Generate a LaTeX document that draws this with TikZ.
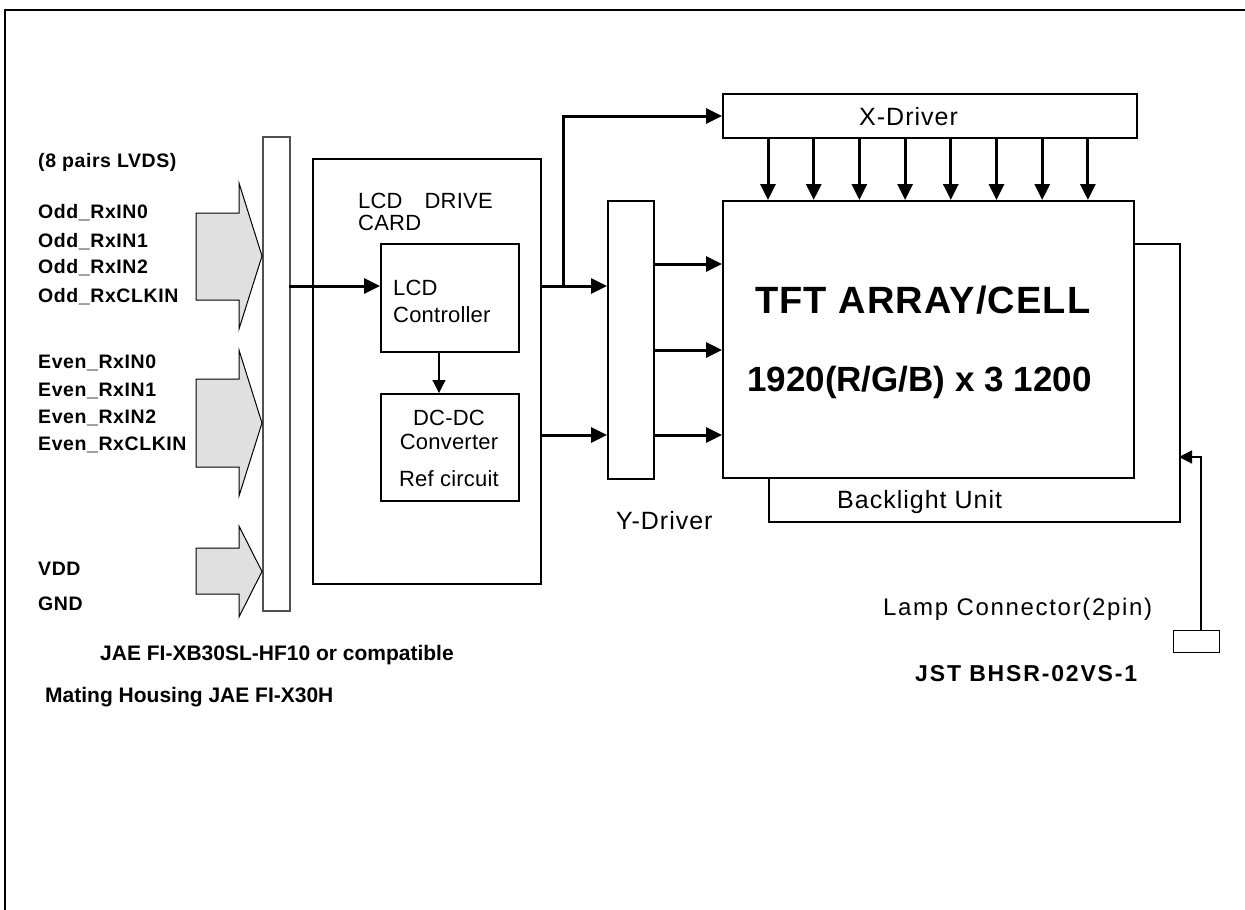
\documentclass[tikz,border=0pt]{standalone}
\usepackage{fontspec}
\setmainfont{Liberation Sans}
\usetikzlibrary{arrows.meta, positioning}
\definecolor{busgray}{RGB}{224,224,224}
\definecolor{bargray}{RGB}{80,80,80}

\tikzset{
  blk/.style={draw, line width=2pt, inner sep=0pt, anchor=north west},
  sigtxt/.style={font=\bfseries\fontsize{19.5}{21}\selectfont\addfontfeatures{LetterSpace=3}, inner sep=0pt, anchor=base west},
  cardtxt/.style={font=\fontsize{22}{24}\selectfont\addfontfeatures{LetterSpace=1}, inner sep=0pt, anchor=base west},
  bigtxt/.style={font=\fontsize{25}{27}\selectfont\addfontfeatures{LetterSpace=4}, inner sep=0pt, anchor=base west},
  parttxt/.style={font=\bfseries\fontsize{21}{23}\selectfont, inner sep=0pt, anchor=base west},
  bigarr/.style={line width=3pt, -{Triangle[length=16pt,width=15pt]}},
  thinarr/.style={line width=1.2pt, -{Triangle[length=13pt,width=13pt]}},
}

\begin{document}
\begin{tikzpicture}[x=1pt, y=-1pt]
  \useasboundingbox (0,0) rectangle (1245,910);
  \draw[line width=2.4pt] (5,915) -- (5,10) -- (1250,10);

  % input connector and LVDS buses
  \node[blk, draw=bargray, line width=1.5pt, minimum width=27pt, minimum height=474pt] (conn) at (262,136) {};
  \foreach \bt/\bb/\ht/\hb in {213/300/183/329, 379/467/350/496, 548/594/526/617}
    \filldraw[fill=busgray, line width=1pt] (196,\bt) -- (239,\bt) -- (239,\ht) -- (262,{(\ht+\hb)/2})
      -- (239,\hb) -- (239,\bb) -- (196,\bb) -- cycle;

  \node[sigtxt] (lvds) at (38,167) {(8 pairs LVDS)};
  \foreach \t/\yy [count=\i] in {Odd\_RxIN0/218, Odd\_RxIN1/247, Odd\_RxIN2/273, Odd\_RxCLKIN/302,
      Even\_RxIN0/368, Even\_RxIN1/396, Even\_RxIN2/423, Even\_RxCLKIN/450, VDD/575, GND/610}
    \node[sigtxt] (sig\i) at (38,\yy) {\t};

  % drive card
  \node[blk, minimum width=228pt, minimum height=425pt] (card) at (312,158) {};
  \node[cardtxt] (cardA) at (358,208) {LCD\quad DRIVE};
  \node[cardtxt] (cardB) at (358,230) {CARD};
  \node[blk, minimum width=138pt, minimum height=108pt] (ctrl) at (380,243) {};
  \node[cardtxt] (ctrlA) at (393,295) {LCD};
  \node[cardtxt] (ctrlB) at (393,322) {Controller};
  \node[blk, minimum width=138pt, minimum height=107pt] (dcdc) at (380,393) {};
  \node[cardtxt, anchor=base] (dcdcA) at (449,425) {DC-DC};
  \node[cardtxt, anchor=base] (dcdcB) at (449,449) {Converter};
  \node[cardtxt, anchor=base] (dcdcC) at (449,486) {Ref circuit};

  % panel
  \node[blk, minimum width=46pt, minimum height=278pt] (ydrv) at (607,200) {};
  \node[bigtxt] (ydrvlbl) at (616,529) {Y-Driver};
  \node[blk, minimum width=414pt, minimum height=44pt] (xdrv) at (722,93) {};
  \node[bigtxt] (xdrvlbl) at (859,125) {X-Driver};
  \node[blk, minimum width=411pt, minimum height=278pt] (blu) at (768,243) {};
  \node[blk, fill=white, minimum width=411pt, minimum height=277pt] (tft) at (722,200) {};
  \node[inner sep=0pt, anchor=base west, font=\bfseries\fontsize{38}{40}\selectfont\addfontfeatures{LetterSpace=3}] (tftA) at (755,313) {TFT ARRAY/CELL};
  \node[inner sep=0pt, anchor=base west, font=\bfseries\fontsize{35}{38}\selectfont] (tftB) at (747,391) {1920(R/G/B) x 3 1200};
  \node[bigtxt] (blulbl) at (837,508) {Backlight Unit};

  % lamp connector
  \node[blk, line width=1.4pt, minimum width=46pt, minimum height=22pt] (lamp) at (1173,630) {};
  \node[bigtxt, font=\fontsize{24}{26}\selectfont\addfontfeatures{LetterSpace=7}] (lamplbl) at (883,615) {Lamp Connector(2pin)};
  \node[parttxt, font=\bfseries\fontsize{23}{25}\selectfont\addfontfeatures{LetterSpace=8}] (jst) at (915,681) {JST BHSR-02VS-1};
  \node[parttxt] (jae) at (100,660) {JAE FI-XB30SL-HF10 or compatible};
  \node[parttxt] (mate) at (45,702) {Mating Housing JAE FI-X30H};

  % connectors
  \coordinate (sig) at (289,286);
  \coordinate (jn) at (563,286);
  \coordinate (lampin) at (1179,457);
  \draw[bigarr] (sig) -- (sig -| ctrl.west);
  \draw[thinarr] ([xshift=-11pt]ctrl.south) -- ([xshift=-11pt]dcdc.north);
  \draw[bigarr] (card.east |- sig) -- (ydrv.west |- sig);
  \draw[bigarr] (jn) |- (xdrv.west);
  \draw[bigarr] (card.east |- 0,435) -- (ydrv.west |- 0,435);
  \foreach \yy in {264,350,435}
    \draw[bigarr] (ydrv.east |- 0,\yy) -- (tft.west |- 0,\yy);
  \foreach \i in {0,...,7}
    \draw[bigarr] ([xshift={46+45.7*\i}]xdrv.south west) -- ([xshift={46+45.7*\i}]tft.north west);
  \draw[thinarr, line width=1.6pt] ([xshift=4pt]lamp.north) |- (lampin);
\end{tikzpicture}
\end{document}
